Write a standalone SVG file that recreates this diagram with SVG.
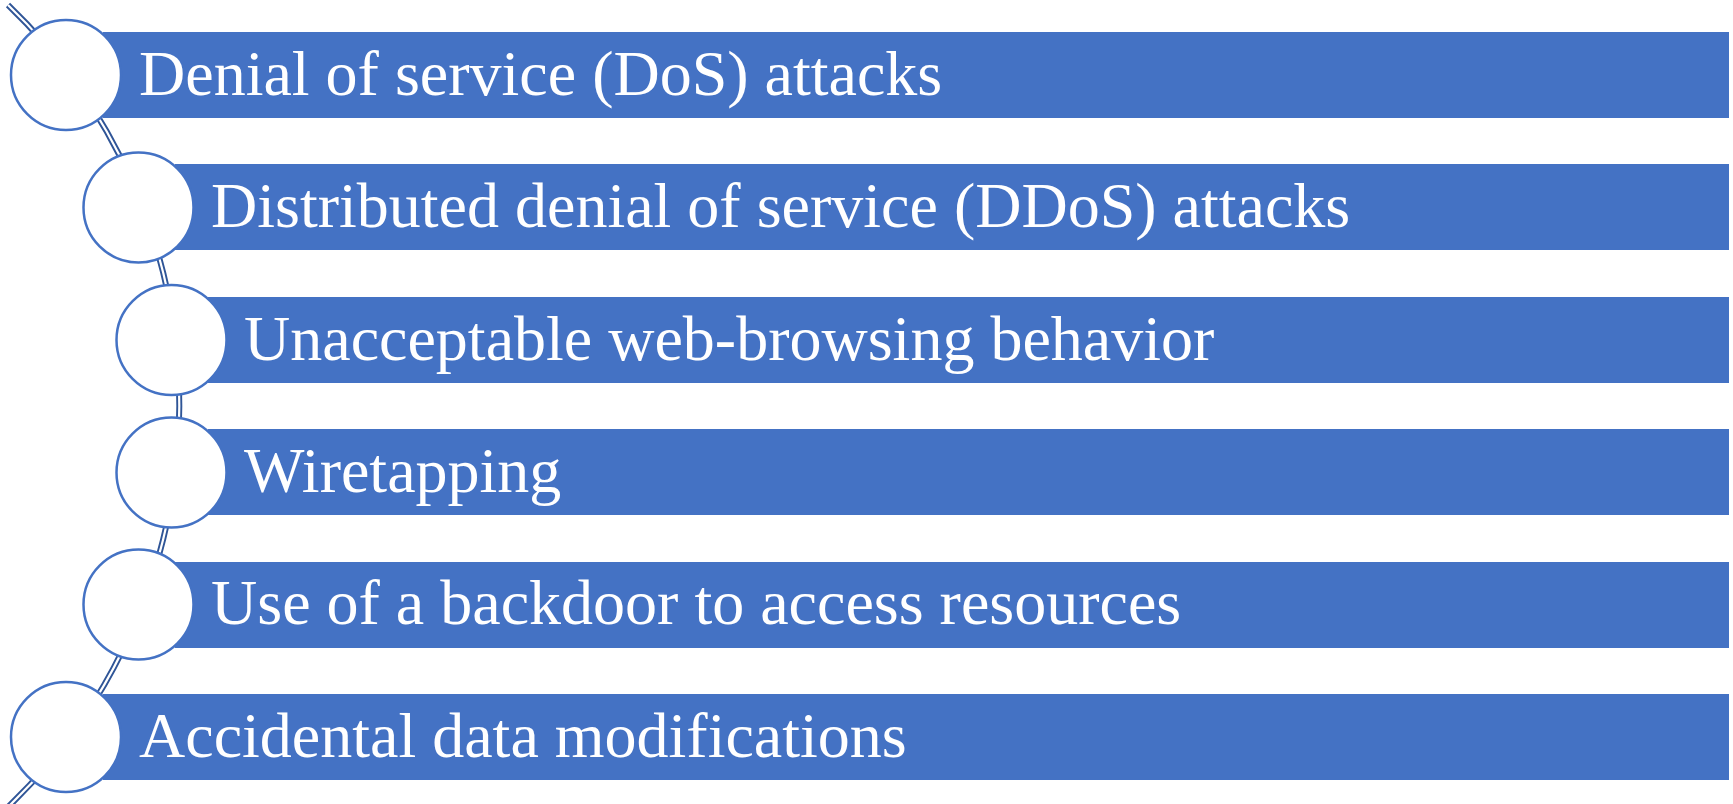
<svg xmlns="http://www.w3.org/2000/svg" width="1733" height="804" viewBox="0 0 1733 804">
<style>
.bar{fill:#4472C4}
.dot{fill:#FFFFFF;stroke:#4472C4;stroke-width:2.5}
.lbl{font-family:"Liberation Serif","Times New Roman",serif;font-size:64px;fill:#FFFFFF}
.arcO{fill:none;stroke:#2F5597;stroke-width:6}
.arcI{fill:none;stroke:#FFFFFF;stroke-width:2.2}
</style>
<rect width="1733" height="804" fill="#FFFFFF"/>
<g id="connectors">
<path class="arcO" d="M 8 5 A 555 555 0 0 1 8 807"/>
<path class="arcI" d="M 8 5 A 555 555 0 0 1 8 807"/>
</g>
<g id="node1">
<rect class="bar" x="103" y="32" width="1626" height="86"/>
<circle class="dot" cx="66" cy="75" r="55"/>
<text class="lbl" x="139" y="95">Denial of service (DoS) attacks</text>
</g>
<g id="node2">
<rect class="bar" x="175" y="164" width="1554" height="86"/>
<circle class="dot" cx="138.5" cy="207.5" r="55"/>
<text class="lbl" x="211" y="227">Distributed denial of service (DDoS) attacks</text>
</g>
<g id="node3">
<rect class="bar" x="208" y="297" width="1521" height="86"/>
<circle class="dot" cx="171.5" cy="340" r="55"/>
<text class="lbl" x="244" y="360">Unacceptable web-browsing behavior</text>
</g>
<g id="node4">
<rect class="bar" x="208" y="429" width="1521" height="86"/>
<circle class="dot" cx="171.5" cy="472.5" r="55"/>
<text class="lbl" x="244" y="492">Wiretapping</text>
</g>
<g id="node5">
<rect class="bar" x="175" y="562" width="1554" height="86"/>
<circle class="dot" cx="138.5" cy="604.5" r="55"/>
<text class="lbl" x="211" y="624">Use of a backdoor to access resources</text>
</g>
<g id="node6">
<rect class="bar" x="103" y="694" width="1626" height="86"/>
<circle class="dot" cx="66" cy="737" r="55"/>
<text class="lbl" x="139" y="757">Accidental data modifications</text>
</g>
</svg>
